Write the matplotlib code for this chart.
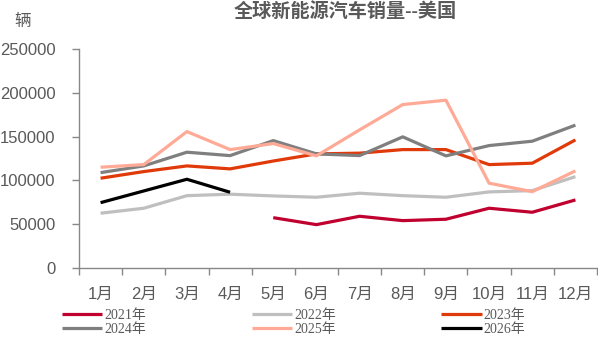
import matplotlib.pyplot as plt
import numpy as np

plt.rcParams["font.family"] = ["Liberation Sans", "Noto Sans CJK SC"]

months = ["1月", "2月", "3月", "4月", "5月", "6月", "7月", "8月", "9月", "10月", "11月", "12月"]

# monthly US NEV sales (units); None = no data
sales_2021 = [None, None, None, None, 57100, 49100, 58700, 53700, 55300, 67900, 63300, 77400]
sales_2022 = [62200, 67900, 82300, 84000, 82000, 80500, 85100, 82300, 80500, 86600, 88100, 104100]
sales_2023 = [102300, 109900, 116400, 113000, 122000, 130200, 131000, 135100, 135100, 117900, 119500, 146200]
sales_2024 = [108700, 116400, 132100, 128200, 145400, 130200, 128200, 149700, 127900, 139700, 144700, 163100]
sales_2025 = [114900, 117900, 155700, 135100, 142000, 127900, 157700, 186700, 191700, 96600, 86900, 110700]
sales_2026 = [74300, 87700, 101100, 86200]

series = [
    ("2021年", sales_2021, "#C0002F"),
    ("2022年", sales_2022, "#BFBFBF"),
    ("2023年", sales_2023, "#E03A0A"),
    ("2024年", sales_2024, "#7F7F7F"),
    ("2025年", sales_2025, "#FFAA96"),
    ("2026年", sales_2026, "#000000"),
]

TEXT = "#595959"
AXIS = "#888888"

fig = plt.figure(figsize=(5.98, 3.40), dpi=100)
ax = fig.add_axes([79 / 598, 1 - 267.5 / 340, 518 / 598, (267.5 - 49.3) / 340])

x = np.arange(len(months))
handles = {}
for name, vals, color in series:
    y = np.array([np.nan if v is None else v for v in vals], dtype=float)
    (ln,) = ax.plot(x[: len(y)], y, color=color, lw=2.3, label=name, solid_capstyle="butt")
    handles[name] = ln

ax.set_xlim(-0.5, len(months) - 0.5)
ax.set_ylim(0, 250000)
ax.set_yticks(np.arange(0, 250001, 50000))
ax.set_yticklabels([f"{v}" for v in range(0, 250001, 50000)])
ax.set_xticks(x)
ax.set_xticklabels(months)
ax.set_xticks(np.arange(-0.5, len(months)), minor=True)
ax.tick_params(axis="x", which="major", length=0, pad=14, labelsize=12, labelcolor=TEXT)
ax.tick_params(axis="x", which="minor", length=5, color=AXIS, width=1)
ax.tick_params(axis="y", length=5, color=AXIS, width=1, labelsize=12, labelcolor=TEXT, pad=12)

for side in ("top", "right"):
    ax.spines[side].set_visible(False)
for side in ("left", "bottom"):
    ax.spines[side].set_color(AXIS)
    ax.spines[side].set_linewidth(1)

fig.text(345 / 598, 1 - 12 / 340, "全球新能源汽车销量--美国", ha="center", va="center",
         fontsize=13.8, fontweight="bold", color=TEXT)
fig.text(23 / 598, 1 - 21 / 340, "辆", ha="center", va="center", fontsize=12, color=TEXT)

order = ["2021年", "2024年", "2022年", "2025年", "2023年", "2026年"]
leg = fig.legend(
    [handles[k] for k in order], order,
    loc="upper left", bbox_to_anchor=(62 / 598, 1 - 309 / 340), ncol=3,
    frameon=False, borderpad=0, borderaxespad=0,
    handlelength=2.9, handletextpad=0.15, columnspacing=7.6, labelspacing=0.05,
    prop={"family": ["Liberation Serif", "Noto Sans CJK SC"], "size": 10},
)
for t in leg.get_texts():
    t.set_color(TEXT)

fig.savefig("out.png", dpi=100)
